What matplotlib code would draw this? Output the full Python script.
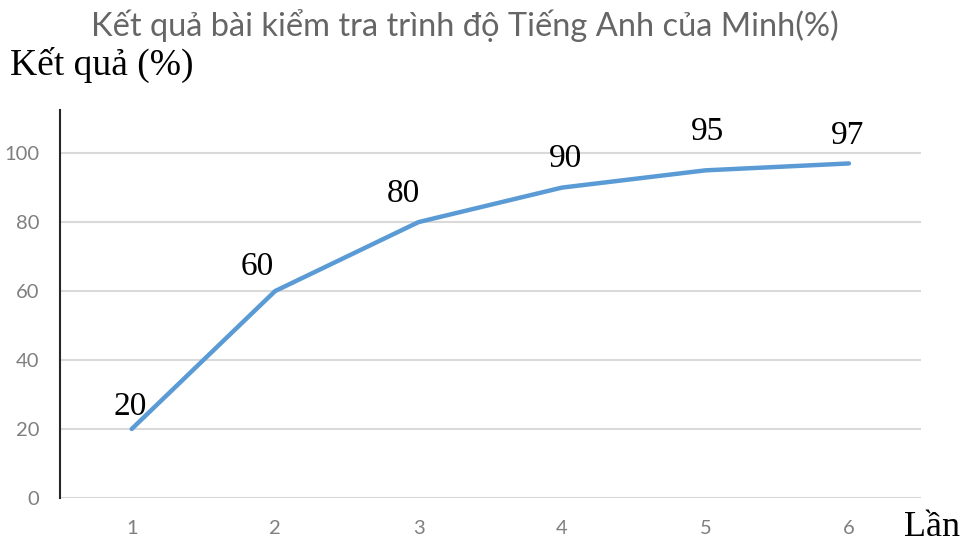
import matplotlib.pyplot as plt

# du lieu
lan = [1, 2, 3, 4, 5, 6]
ket_qua = [20, 60, 80, 90, 95, 97]
y_ticks = [0, 20, 40, 60, 80, 100]

# vi tri nhan (pixel) so voi diem
nhan_dx = [-2, -18, -15, 3, 2, -1]
nhan_dy = [22, 24, 28, 29, 39, 28]

plt.rcParams['font.family'] = ['Lato', 'DejaVu Sans']

fig = plt.figure(figsize=(9.61, 5.44), dpi=100)
ax = fig.add_axes([0.0624, 0.0846, 0.8956, 0.7132])

ax.plot(lan, ket_qua, color='#5B9BD5', linewidth=3.2, solid_capstyle='round')

for x, y, dx, dy in zip(lan, ket_qua, nhan_dx, nhan_dy):
    ax.annotate(str(y), (x, y), xytext=(dx, dy), textcoords='offset pixels',
                ha='center', va='center', fontsize=24, family='Liberation Serif',
                color='black')

ax.set_xlim(0.5, 6.5)
ax.set_ylim(0, 112.5)
ax.set_xticks(lan)
ax.set_yticks(y_ticks)
ax.tick_params(length=0, labelcolor='#7F7F7F', labelsize=14.5)
ax.tick_params(axis='x', pad=16)
ax.tick_params(axis='y', pad=15)

ax.grid(axis='y', color='#D9D9D9', linewidth=1.5)
ax.set_axisbelow(True)
for s in ['top', 'right', 'bottom']:
    ax.spines[s].set_visible(False)
ax.spines['left'].set_color('#262626')
ax.spines['left'].set_linewidth(1.5)

fig.text(0.484, 0.953, 'Kết quả bài kiểm tra trình độ Tiếng Anh của Minh(%)',
         ha='center', va='center', fontsize=23.5, color='#666666')
fig.text(0.01, 0.88, 'Kết quả (%)', ha='left', va='center', fontsize=27,
         family='Liberation Serif', color='black')
fig.text(0.97, 0.03, 'Lần', ha='center', va='center', fontsize=26,
         family='Liberation Serif', color='black')

plt.savefig('out.png', dpi=100)
